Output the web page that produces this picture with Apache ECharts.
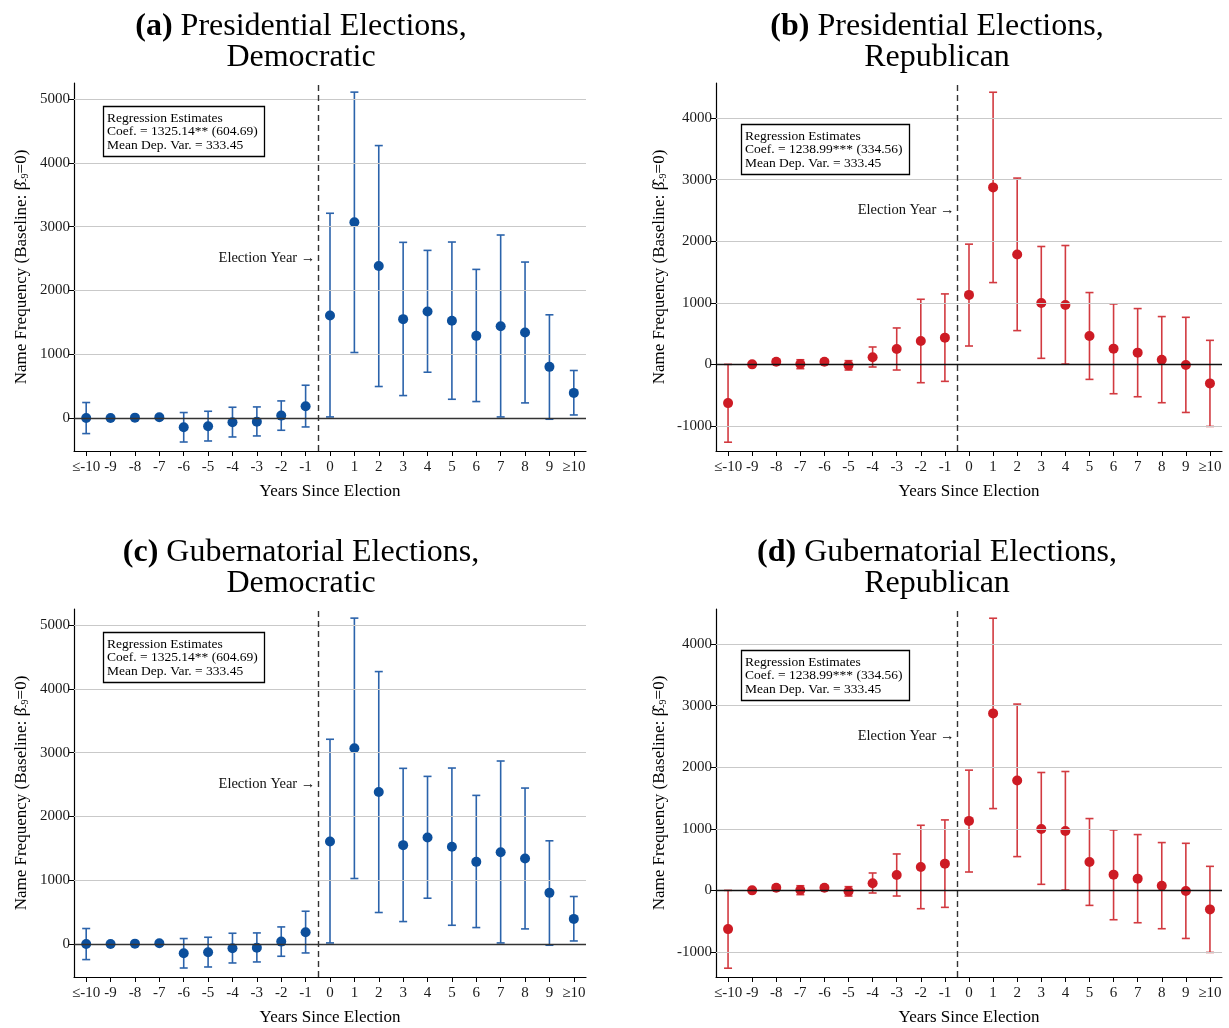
<!DOCTYPE html>
<html><head><meta charset="utf-8">
<script src="https://cdn.jsdelivr.net/npm/echarts@6/dist/echarts.min.js"></script>
<style>html,body{margin:0;padding:0;background:#fff}#c{width:1229px;height:1028px}</style>
</head><body><div id="c"></div>
<script>
// ---------- data ----------
const xVals = [-10,-9,-8,-7,-6,-5,-4,-3,-2,-1,0,1,2,3,4,5,6,7,8,9,10];
const xLabels = ['≤-10','-9','-8','-7','-6','-5','-4','-3','-2','-1','0','1','2','3','4','5','6','7','8','9','≥10'];

const demEst = [0, 0, 5, 12, -146, -131, -68, -58, 37, 183, 1607, 3067, 2381, 1549, 1670, 1523, 1287, 1439, 1340, 801, 393];
const demLo  = [-245, -15, -20, -15, -377, -361, -298, -282, -193, -141, 16, 1026, 493, 351, 717, 293, 257, 16, 236, -20, 47];
const demHi  = [242, 15, 30, 40, 85, 105, 168, 173, 267, 513, 3209, 5108, 4270, 2753, 2627, 2758, 2329, 2868, 2444, 1617, 744];

const repEst = [-629, 0, 43, 5, 43, -16, 114, 249, 380, 434, 1128, 2874, 1784, 997, 965, 461, 255, 190, 76, -11, -309];
const repLo  = [-1264, -10, 5, -70, 10, -92, -43, -92, -298, -276, 298, 1328, 548, 98, 5, -244, -477, -526, -623, -781, -1008];
const repHi  = [0, 10, 80, 75, 75, 60, 282, 591, 1057, 1144, 1952, 4419, 3025, 1914, 1930, 1166, 981, 906, 776, 764, 390];

const demTicks = [0, 1000, 2000, 3000, 4000, 5000];
const repTicks = [-1000, 0, 1000, 2000, 3000, 4000];

const panelTitles = [
  ['(a)', 'Presidential Elections,', 'Democratic'],
  ['(b)', 'Presidential Elections,', 'Republican'],
  ['(c)', 'Gubernatorial Elections,', 'Democratic'],
  ['(d)', 'Gubernatorial Elections,', 'Republican']
];
const demBox = 'Regression Estimates\nCoef. = 1325.14** (604.69)\nMean Dep. Var. = 333.45';
const repBox = 'Regression Estimates\nCoef. = 1238.99*** (334.56)\nMean Dep. Var. = 333.45';
const electionLabel = 'Election Year →';
const electionLabelY = 2500;
const xName = 'Years Since Election';

// ---------- layout ----------
const FONT = 'Liberation Serif';
const BLUE = '#0c4f9c', BLUE_BAR = '#2b63ab';
const RED = '#cd1b24', RED_BAR = '#d23a40';

const panels = [
  {est: demEst, lo: demLo, hi: demHi, ticks: demTicks, min: -518, max: 5251, color: BLUE, bar: BLUE_BAR,
   grid: {left: 74, top: 83, width: 512, height: 368}, tc: 296, ttop: 6, box: demBox, bx: 103, by: 107, zero: '#333', ng: 44},
  {est: repEst, lo: repLo, hi: repHi, ticks: repTicks, min: -1407, max: 4569, color: RED, bar: RED_BAR,
   grid: {left: 716, top: 83, width: 506, height: 368}, tc: 932, ttop: 6, box: repBox, bx: 741, by: 125, zero: '#111', ng: 48},
  {est: demEst, lo: demLo, hi: demHi, ticks: demTicks, min: -518, max: 5251, color: BLUE, bar: BLUE_BAR,
   grid: {left: 74, top: 609, width: 512, height: 368}, tc: 296, ttop: 532, box: demBox, bx: 103, by: 633, zero: '#333', ng: 44},
  {est: repEst, lo: repLo, hi: repHi, ticks: repTicks, min: -1407, max: 4569, color: RED, bar: RED_BAR,
   grid: {left: 716, top: 609, width: 506, height: 368}, tc: 932, ttop: 532, box: repBox, bx: 741, by: 651, zero: '#111', ng: 48}
];

function errRender(color) {
  return function (params, api) {
    const x = api.value(0), lo = api.value(1), hi = api.value(2);
    const a = api.coord([x, lo]), b = api.coord([x, hi]);
    const w = 4;
    const style = {stroke: color, lineWidth: 1.6};
    return {type: 'group', children: [
      {type: 'line', shape: {x1: a[0], y1: a[1], x2: b[0], y2: b[1]}, style: style},
      {type: 'line', shape: {x1: a[0] - w, y1: a[1], x2: a[0] + w, y2: a[1]}, style: style},
      {type: 'line', shape: {x1: b[0] - w, y1: b[1], x2: b[0] + w, y2: b[1]}, style: style}
    ]};
  };
}

const option = {animation: false, backgroundColor: '#fff', title: [], grid: [], xAxis: [], yAxis: [], series: []};

panels.forEach((p, i) => {
  const t = panelTitles[i];
  option.title.push({
    left: p.tc, top: p.ttop, textAlign: 'center',
    text: '{b|' + t[0] + '}{n| ' + t[1] + '}\n{n|' + t[2] + '}',
    textStyle: {fontFamily: FONT, fontSize: 32, fontWeight: 'normal', color: '#000', lineHeight: 31, rich: {
      b: {fontFamily: FONT, fontSize: 32, fontWeight: 'bold', color: '#000', lineHeight: 31},
      n: {fontFamily: FONT, fontSize: 32, fontWeight: 'normal', color: '#000', lineHeight: 31}
    }}
  });
  option.title.push({
    left: p.bx, top: p.by, text: p.box,
    padding: [5, 7, 4, 4], borderColor: '#000', borderWidth: 1.3, backgroundColor: '#fff',
    textStyle: {fontFamily: FONT, fontSize: 13.5, fontWeight: 'normal', color: '#000', lineHeight: 13.3}
  });
  option.grid.push(p.grid);
  option.xAxis.push({
    gridIndex: i, type: 'value', min: -10.5, max: 10.5,
    name: xName, nameLocation: 'middle', nameGap: 32,
    nameTextStyle: {fontFamily: FONT, fontSize: 17, color: '#000'},
    axisLine: {show: true, onZero: false, lineStyle: {color: '#000', width: 1.2}},
    axisTick: {show: true, length: 5, lineStyle: {color: '#000', width: 1}, customValues: xVals},
    axisLabel: {fontFamily: FONT, fontSize: 15, color: '#1a1a1a', margin: 9, customValues: xVals,
      formatter: v => xLabels[xVals.indexOf(Math.round(v))]},
    splitLine: {show: false}
  });
  option.yAxis.push({
    gridIndex: i, type: 'value', min: p.min, max: p.max,
    name: '{a|Name Frequency (Baseline: β̂}{s|-9}{a|=0)}', nameLocation: 'middle', nameGap: p.ng, nameRotate: 90,
    nameTextStyle: {rich: {
      a: {fontFamily: FONT, fontSize: 17, color: '#000'},
      s: {fontFamily: FONT, fontSize: 10, color: '#000', verticalAlign: 'bottom', padding: [6, 0, 0, 0]}
    }},
    axisLine: {show: true, onZero: false, lineStyle: {color: '#000', width: 1.2}},
    axisTick: {show: true, length: 5, lineStyle: {color: '#000', width: 1}, customValues: p.ticks},
    axisLabel: {fontFamily: FONT, fontSize: 15, color: '#1a1a1a', margin: 4, customValues: p.ticks,
      formatter: v => String(Math.round(v))},
    splitLine: {show: false}
  });
  const gridLines = p.ticks.filter(v => v !== 0).map(v => ({yAxis: v, lineStyle: {color: '#c9c9c9', width: 1, type: 'solid'}}));
  option.series.push({
    type: 'scatter', xAxisIndex: i, yAxisIndex: i, z: 1, silent: true, symbolSize: 0,
    data: xVals.map((x, k) => [x, p.est[k]]),
    markLine: {
      silent: true, symbol: ['none', 'none'], label: {show: false}, animation: false,
      data: gridLines.concat([
        {xAxis: -0.5, lineStyle: {color: '#333', width: 1.4, type: [6, 4]}}
      ])
    },
    markPoint: {
      silent: true, symbol: 'circle', symbolSize: 1, itemStyle: {color: 'rgba(0,0,0,0)'},
      label: {show: true, position: 'left', distance: 2, formatter: electionLabel,
        fontFamily: FONT, fontSize: 14.5, color: '#111'},
      data: [{coord: [-0.5, electionLabelY]}]
    }
  });
  option.series.push({
    type: 'scatter', xAxisIndex: i, yAxisIndex: i, z: 2, silent: true, symbolSize: 0,
    data: xVals.map((x, k) => [x, p.est[k]]),
    markLine: {
      silent: true, symbol: ['none', 'none'], label: {show: false}, animation: false,
      data: [{yAxis: 0, lineStyle: {color: p.zero, width: 1.4, type: 'solid'}}]
    }
  });
  option.series.push({
    type: 'custom', xAxisIndex: i, yAxisIndex: i, z: 3, silent: true,
    renderItem: errRender(p.bar),
    encode: {x: 0, y: [1, 2]},
    data: xVals.map((x, k) => [x, p.lo[k], p.hi[k]])
  });
  option.series.push({
    type: 'scatter', xAxisIndex: i, yAxisIndex: i, z: 4, silent: true,
    symbol: 'circle', symbolSize: 10, itemStyle: {color: p.color, opacity: 1},
    data: xVals.map((x, k) => [x, p.est[k]])
  });
});

const chart = echarts.init(document.getElementById('c'), null, {renderer: 'canvas'});
chart.setOption(option);
</script>
</body></html>
